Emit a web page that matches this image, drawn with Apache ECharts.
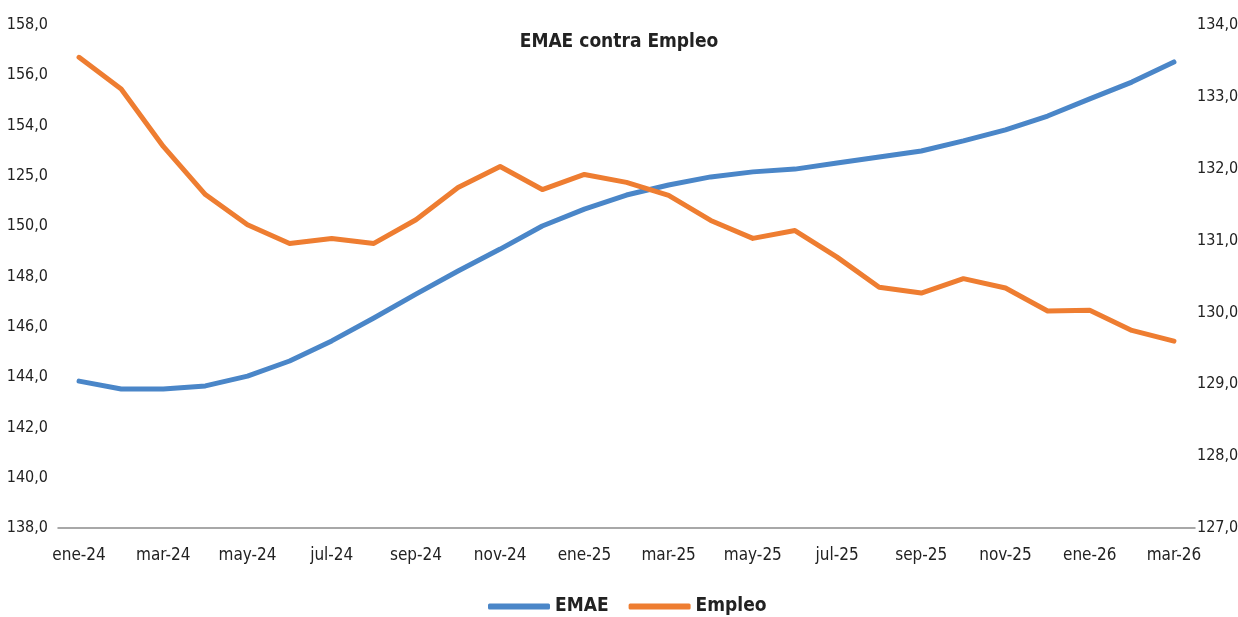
<html lang="es">
<head>
    <meta charset="UTF-8">
    <title>EMAE contra Empleo</title>
    <script src="https://cdn.jsdelivr.net/npm/echarts@6.0.0/dist/echarts.min.js"></script>
</head>
<body style="margin:0">
    <div id="main" style="width: 1238px;height:617px;"></div>
    <script type="text/javascript">
        // datos
        var meses = ['ene-24', 'feb-24', 'mar-24', 'abr-24', 'may-24', 'jun-24', 'jul-24', 'ago-24', 'sep-24', 'oct-24', 'nov-24', 'dic-24',
            'ene-25', 'feb-25', 'mar-25', 'abr-25', 'may-25', 'jun-25', 'jul-25', 'ago-25', 'sep-25', 'oct-25', 'nov-25', 'dic-25',
            'ene-26', 'feb-26', 'mar-26'];
        var emae = [143.84, 143.53, 143.53, 143.65, 144.04, 144.64, 145.44, 146.35, 147.30, 148.22, 149.09, 150.01,
            150.68, 151.24, 151.64, 151.96, 152.16, 152.27, 152.51, 152.75, 152.99, 153.39, 153.83, 154.38,
            155.06, 155.73, 156.53];
        var empleo = [133.55, 133.11, 132.31, 131.64, 131.22, 130.96, 131.03, 130.96, 131.29, 131.74, 132.03, 131.71,
            131.92, 131.81, 131.63, 131.28, 131.03, 131.14, 130.77, 130.35, 130.27, 130.47, 130.34, 130.02,
            130.03, 129.75, 129.60];
        // etiquetas del eje izquierdo tal como aparecen en el original
        var ticksIzq = ['138,0', '140,0', '142,0', '144,0', '146,0', '148,0', '150,0', '125,0', '154,0', '156,0', '158,0'];
        var ticksDer = ['127,0', '128,0', '129,0', '130,0', '131,0', '132,0', '133,0', '134,0'];

        var fuente = '"Liberation Sans Narrow", "DejaVu Sans Condensed", sans-serif';
        var myChart = echarts.init(document.getElementById('main'));

        var option = {
            animation: false,
            textStyle: { fontFamily: fuente },
            title: {
                text: 'EMAE contra Empleo',
                left: 'center',
                top: 28,
                textStyle: { fontFamily: fuente, fontSize: 19, fontWeight: 'bold', color: '#222' }
            },
            legend: {
                data: ['EMAE', 'Empleo'],
                bottom: -4,
                left: 483,
                itemWidth: 62,
                itemHeight: 6,
                itemGap: 20,
                icon: 'roundRect',
                textStyle: { fontFamily: fuente, fontSize: 19, fontWeight: 'bold', color: '#222' }
            },
            grid: { left: 58, right: 43, top: 25, bottom: 89, outerBoundsMode: 'none' },
            xAxis: {
                type: 'category',
                data: meses,
                axisLine: { lineStyle: { color: '#8c8c8c', width: 1.5 } },
                axisTick: { show: false },
                axisLabel: { interval: 1, color: '#222', fontSize: 17, margin: 19, fontFamily: fuente }
            },
            yAxis: [{
                type: 'value',
                min: 138, max: 158, interval: 2,
                splitLine: { show: false },
                axisLine: { show: false },
                axisLabel: {
                    color: '#222', fontSize: 16, margin: 10, fontFamily: fuente,
                    formatter: function (v) { return ticksIzq[Math.round((v - 138) / 2)]; }
                }
            }, {
                type: 'value',
                min: 127, max: 134, interval: 1,
                splitLine: { show: false },
                axisLine: { show: false },
                axisLabel: {
                    color: '#222', fontSize: 16, margin: 2, fontFamily: fuente,
                    formatter: function (v) { return ticksDer[Math.round(v - 127)]; }
                }
            }],
            series: [{
                name: 'EMAE',
                type: 'line',
                data: emae,
                yAxisIndex: 0,
                showSymbol: false,
                itemStyle: { color: '#4A86C8' },
                lineStyle: { width: 5, color: '#4A86C8', cap: 'round', join: 'round' }
            }, {
                name: 'Empleo',
                type: 'line',
                data: empleo,
                yAxisIndex: 1,
                showSymbol: false,
                itemStyle: { color: '#EE7D31' },
                lineStyle: { width: 5, color: '#EE7D31', cap: 'round', join: 'round' }
            }]
        };
        myChart.setOption(option);
    </script>
</body>
</html>
